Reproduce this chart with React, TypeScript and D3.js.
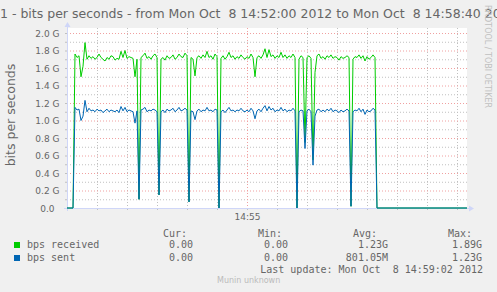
import React from "react";
import * as d3 from "d3";

// ---- data (Gbit/s), sampled every 2 s from 14:52:00 ----
const SAMPLE_STEP_SEC = 2;
const received: number[] = [
  0, 0, 0, 0,
  1.76, 1.72, 1.74, 1.50, 1.62, 1.89, 1.70, 1.74, 1.71, 1.73,
  1.70, 1.72, 1.76, 1.72, 1.70, 1.68, 1.72, 1.70, 1.74, 1.73,
  1.69, 1.71, 1.70, 1.79, 1.72, 1.80, 1.71, 1.73, 1.72, 1.71,
  1.50, 1.70, 0.10, 1.72, 1.74, 1.77, 1.71, 1.73, 1.70, 1.74,
  1.76, 1.72, 0.15, 1.70, 1.72, 1.69, 1.74, 1.71, 1.72, 1.75,
  1.70, 1.72, 1.76, 1.73, 1.72, 1.77, 1.74, 0.07, 1.72, 1.70,
  1.51, 1.72, 1.74, 1.71, 1.75, 1.72, 1.79, 1.72, 1.74, 1.70,
  1.76, 1.73, 0.00, 1.71, 1.74, 1.70, 1.73, 1.78, 1.72, 1.74,
  1.70, 1.73, 1.71, 1.75, 1.72, 1.70, 1.73, 1.71, 1.76, 1.72,
  1.50, 1.72, 1.74, 1.71, 1.75, 1.82, 1.72, 1.81, 1.73, 1.75,
  1.71, 1.74, 1.72, 1.78, 1.72, 1.75, 1.71, 1.74, 1.72, 1.76,
  1.72, 0.00, 1.70, 1.74, 1.72, 0.75, 1.72, 1.74, 1.71, 0.55,
  1.55, 1.74, 1.76, 1.71, 1.73, 1.70, 1.74, 1.72, 1.75, 1.71,
  1.73, 1.72, 1.69, 1.73, 1.71, 1.72, 1.74, 1.72, 0.02, 1.70,
  1.73, 1.72, 1.75, 1.71, 1.74, 1.68, 1.73, 1.70, 1.72, 1.75,
  1.72,
  0, 0, 0, 0, 0, 0, 0, 0, 0, 0, 0, 0, 0, 0, 0, 0, 0, 0, 0, 0, 0, 0, 0,
  0, 0, 0, 0, 0, 0, 0, 0, 0, 0, 0, 0, 0, 0, 0, 0, 0, 0, 0, 0, 0, 0, 0,
];
const sent: number[] = [
  0, 0, 0, 0,
  1.15, 1.12, 1.13, 1.00, 1.05, 1.23, 1.10, 1.14, 1.11, 1.12,
  1.10, 1.13, 1.11, 1.12, 1.09, 1.11, 1.13, 1.10, 1.12, 1.11,
  1.10, 1.12, 1.09, 1.16, 1.11, 1.15, 1.10, 1.12, 1.11, 1.10,
  0.97, 1.11, 0.10, 1.12, 1.13, 1.15, 1.10, 1.12, 1.11, 1.13,
  1.12, 1.10, 0.15, 1.10, 1.12, 1.09, 1.13, 1.11, 1.12, 1.14,
  1.10, 1.12, 1.15, 1.11, 1.12, 1.14, 1.12, 0.07, 1.11, 1.10,
  1.01, 1.11, 1.13, 1.10, 1.12, 1.11, 1.15, 1.11, 1.12, 1.10,
  1.13, 1.12, 0.00, 1.10, 1.12, 1.09, 1.12, 1.15, 1.11, 1.12,
  1.10, 1.12, 1.11, 1.14, 1.11, 1.10, 1.12, 1.10, 1.14, 1.11,
  1.02, 1.11, 1.13, 1.10, 1.14, 1.17, 1.11, 1.16, 1.12, 1.14,
  1.10, 1.12, 1.11, 1.15, 1.11, 1.13, 1.10, 1.12, 1.11, 1.14,
  1.11, 0.00, 1.10, 1.12, 1.11, 0.68, 1.11, 1.13, 1.10, 0.49,
  1.05, 1.12, 1.13, 1.10, 1.12, 1.10, 1.13, 1.11, 1.14, 1.10,
  1.12, 1.11, 1.09, 1.12, 1.10, 1.11, 1.13, 1.11, 0.02, 1.10,
  1.12, 1.11, 1.14, 1.10, 1.13, 1.07, 1.12, 1.10, 1.11, 1.14,
  1.12,
  0, 0, 0, 0, 0, 0, 0, 0, 0, 0, 0, 0, 0, 0, 0, 0, 0, 0, 0, 0, 0, 0, 0,
  0, 0, 0, 0, 0, 0, 0, 0, 0, 0, 0, 0, 0, 0, 0, 0, 0, 0, 0, 0, 0, 0, 0,
];

const yTickValues = [0, 0.2, 0.4, 0.6, 0.8, 1.0, 1.2, 1.4, 1.6, 1.8, 2.0];
const yTickLabels = ["0.0", "0.2 G", "0.4 G", "0.6 G", "0.8 G", "1.0 G", "1.2 G", "1.4 G", "1.6 G", "1.8 G", "2.0 G"];
const yMinorValues = [0.1, 0.3, 0.5, 0.7, 0.9, 1.1, 1.3, 1.5, 1.7, 1.9];
const xMinorSec = [30, 60, 90, 120, 150, 210, 240, 270, 300, 330, 360, 390];
const xMajorSec = [180];
const xMajorLabels = ["14:55"];

const seriesNames = ["bps received", "bps sent"];
const seriesColors = ["#00cc00", "#0066b3"];
const curValues = ["0.00", "0.00"];
const minValues = ["0.00", "0.00"];
const avgValues = ["1.23G", "801.05M"];
const maxValues = ["1.89G", "1.23G"];

const TITLE = "1 - bits per seconds - from Mon Oct  8 14:52:00 2012 to Mon Oct  8 14:58:40 2012";
const Y_TITLE = "bits per seconds";
const LAST_UPDATE = "Last update: Mon Oct  8 14:59:02 2012";
const WATERMARK = "RRDTOOL / TOBI OETIKER";
const FOOTER = "Munin unknown";

const W = 497, H = 292;
const SANS = "'DejaVu Sans', sans-serif";
const MONO = "'DejaVu Sans Mono', monospace";
const FONT_COLOR = "#666666";
const AXIS_COLOR = "#cfd6f8";
const PRE = { whiteSpace: "pre" as const };

export default function App() {
  const x = d3.scaleLinear().domain([0, 400]).range([67, 467]);
  const y = d3.scaleLinear().domain([0, 2.0 * 180 / 175]).range([208, 28]);

  const mkLine = (vals: number[]) =>
    d3.line<number>()
      .x((_, i) => x(i * SAMPLE_STEP_SEC))
      .y((v) => y(v))(vals) || "";

  const series = [received, sent];

  return (
    <svg width={W} height={H} style={{ position: "absolute", left: 0, top: 0, display: "block" }}
      xmlns="http://www.w3.org/2000/svg">
      <rect x={0} y={0} width={W} height={H} fill="#f0f0f0" />
      {/* title */}
      <text x={0} y={18} fontFamily={SANS} fontSize={12.5} fill={FONT_COLOR} xmlSpace="preserve" style={PRE}>{TITLE}</text>
      {/* canvas */}
      <rect x={x(0)} y={y.range()[1]} width={x(400) - x(0)} height={y(0) - y.range()[1]} fill="#ffffff" />
      {/* minor grid */}
      {yMinorValues.map((v) => (
        <line key={"ym" + v} x1={x(0)} x2={x(400)} y1={y(v) + 0.5} y2={y(v) + 0.5}
          stroke="#c0c0c0" strokeDasharray="1,2" strokeWidth={1} />
      ))}
      {xMinorSec.map((s) => (
        <line key={"xm" + s} x1={x(s) + 0.5} x2={x(s) + 0.5} y1={y.range()[1]} y2={y(0)}
          stroke="#c0c0c0" strokeDasharray="1,2" strokeWidth={1} />
      ))}
      {/* major grid */}
      {yTickValues.filter((v) => v > 0).map((v) => (
        <line key={"yM" + v} x1={x(0)} x2={x(400)} y1={y(v) + 0.5} y2={y(v) + 0.5}
          stroke="#f0a0a0" strokeDasharray="1,2" strokeWidth={1} />
      ))}
      {xMajorSec.map((s) => (
        <line key={"xM" + s} x1={x(s) + 0.5} x2={x(s) + 0.5} y1={y.range()[1]} y2={y(0)}
          stroke="#f0a0a0" strokeDasharray="1,2" strokeWidth={1} />
      ))}
      {/* ticks */}
      {yTickValues.concat(yMinorValues).map((v) => (
        <line key={"yt" + v} x1={x(0) - 2} x2={x(0)} y1={y(v) + 0.5} y2={y(v) + 0.5} stroke="#c0c0c0" />
      ))}
      {xMinorSec.concat(xMajorSec).map((s) => (
        <line key={"xt" + s} x1={x(s) + 0.5} x2={x(s) + 0.5} y1={y(0)} y2={y(0) + 2} stroke="#c0c0c0" />
      ))}
      {/* axes */}
      <line x1={x(0) + 0.5} x2={x(0) + 0.5} y1={y(0) + 3} y2={y.range()[1] - 2} stroke={AXIS_COLOR} />
      <path d={`M${x(0) - 2.5},${y.range()[1] - 1} L${x(0) + 0.5},${y.range()[1] - 6} L${x(0) + 3.5},${y.range()[1] - 1} Z`} fill={AXIS_COLOR} />
      <line x1={x(0) - 3} x2={x(400) + 3} y1={y(0) + 0.5} y2={y(0) + 0.5} stroke={AXIS_COLOR} />
      <path d={`M${x(400) + 2},${y(0) - 2.5} L${x(400) + 7},${y(0) + 0.5} L${x(400) + 2},${y(0) + 3.5} Z`} fill={AXIS_COLOR} />
      {/* data lines */}
      {series.map((vals, i) => (
        <path key={"s" + i} d={mkLine(vals)} fill="none" stroke={seriesColors[i]} strokeWidth={1} />
      ))}
      {/* y labels */}
      {yTickValues.map((v, i) => (
        <text key={"yl" + v} x={v === 0 ? 54.5 : 59.5} y={y(v) + 3.5} textAnchor="end"
          fontFamily={SANS} fontSize={9} fill={FONT_COLOR}>{yTickLabels[i]}</text>
      ))}
      {/* x labels */}
      {xMajorSec.map((s, i) => (
        <text key={"xl" + s} x={x(s) + 0.5} y={220} textAnchor="middle"
          fontFamily={SANS} fontSize={9} fill={FONT_COLOR}>{xMajorLabels[i]}</text>
      ))}
      {/* y title */}
      <text transform={`translate(15,${115}) rotate(-90)`} textAnchor="middle"
        fontFamily={SANS} fontSize={12.5} fill={FONT_COLOR}>{Y_TITLE}</text>
      {/* watermark */}
      <text transform="translate(485,5) rotate(90)" fontFamily={SANS} fontSize={8} fill="#c0c0c0">{WATERMARK}</text>
      {/* legend */}
      <g fontFamily={MONO} fontSize={10} fill={FONT_COLOR}>
        <text x={163} y={237}>Cur:</text>
        <text x={258} y={237}>Min:</text>
        <text x={353} y={237}>Avg:</text>
        <text x={448} y={237}>Max:</text>
        {seriesNames.map((name, i) => {
          const by = 248 + i * 13;
          return (
            <g key={name}>
              <rect x={14} y={by - 6} width={6} height={6} fill={seriesColors[i]} />
              <text x={27} y={by}>{name}</text>
              <text x={193} y={by} textAnchor="end">{curValues[i]}</text>
              <text x={288} y={by} textAnchor="end">{minValues[i]}</text>
              <text x={388} y={by} textAnchor="end">{avgValues[i]}</text>
              <text x={482} y={by} textAnchor="end">{maxValues[i]}</text>
            </g>
          );
        })}
        <text x={483} y={273} textAnchor="end" xmlSpace="preserve" style={PRE}>{LAST_UPDATE}</text>
      </g>
      <text x={217} y={283} fontFamily={SANS} fontSize={8} fill="#bbbbbb">{FOOTER}</text>
    </svg>
  );
}
